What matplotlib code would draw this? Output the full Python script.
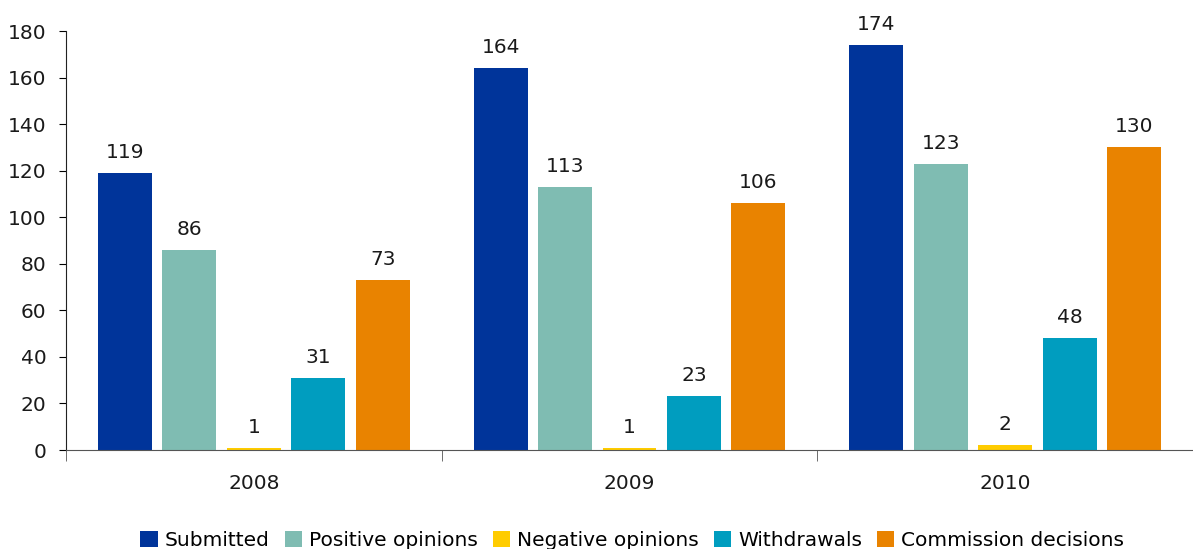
import matplotlib.pyplot as plt
import numpy as np

# Data
years = ['2008', '2009', '2010']
series = ['Submitted', 'Positive opinions', 'Negative opinions', 'Withdrawals', 'Commission decisions']
submitted = [119, 164, 174]
positive = [86, 113, 123]
negative = [1, 1, 2]
withdrawals = [31, 23, 48]
commission = [73, 106, 130]
colors = ['#00349A', '#7FBCB2', '#FFCC00', '#009DBF', '#E98300']

values = [submitted, positive, negative, withdrawals, commission]

plt.rcParams['font.family'] = 'DejaVu Sans'
fig = plt.figure(figsize=(11.93, 5.49), dpi=100)
ax = fig.add_axes([0.0553, 0.1803, 0.9447, 0.7632])

x = np.arange(len(years))
pitch = 0.1715
width = 0.1436
for i, (name, vals, c) in enumerate(zip(series, values, colors)):
    pos = x + (i - 2) * pitch
    bars = ax.bar(pos, vals, width, color=c, label=name)
    for b, v in zip(bars, vals):
        ax.annotate(str(v), (b.get_x() + b.get_width() / 2, v),
                    xytext=(0, 8), textcoords='offset points',
                    ha='center', va='bottom', fontsize=14.5, color='#1a1a1a')

ax.set_xlim(-0.5, 2.5)
ax.set_ylim(0, 180)
ax.set_yticks(range(0, 181, 20))
ax.set_xticks(x)
ax.set_xticklabels(years)
ax.set_xticks([-0.5, 0.5, 1.5, 2.5], minor=True)
ax.tick_params(axis='x', which='major', length=0, pad=17, labelsize=14.5, labelcolor='#1a1a1a')
ax.tick_params(axis='x', which='minor', length=8, color='#555555')
ax.tick_params(axis='y', length=5, labelsize=14.5, pad=9, labelcolor='#1a1a1a')

for s in ['top', 'right']:
    ax.spines[s].set_visible(False)
ax.spines['left'].set_color('#222222')
ax.spines['bottom'].set_color('#555555')

fig.legend(loc='lower center', bbox_to_anchor=(0.53, -0.035), ncol=5, frameon=False,
           fontsize=14.5, handlelength=0.85, handleheight=0.85, handletextpad=0.35,
           columnspacing=0.75)

fig.savefig('out.png', dpi=100)
